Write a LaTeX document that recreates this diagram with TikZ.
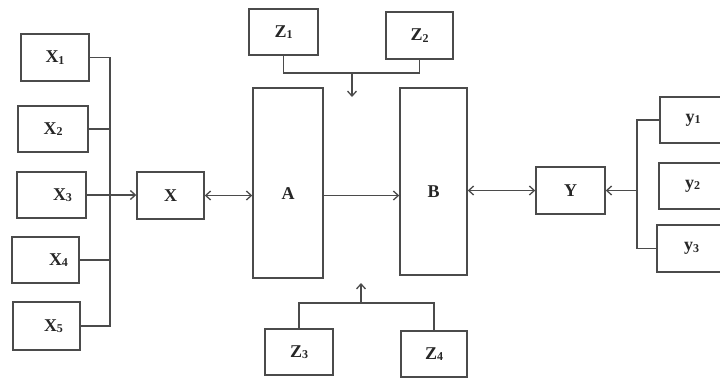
\documentclass[tikz,border=0pt]{standalone}
\usepackage{fontspec}
\setmainfont{Liberation Serif}
\usetikzlibrary{arrows.meta}
\newcommand\lbl[2]{#1\raisebox{-1.5pt}{\fontsize{12pt}{12pt}\selectfont #2}}
\definecolor{ink}{RGB}{75,75,75}
\tikzset{
  blk/.style={draw=ink, line width=1.4pt, fill=white, inner sep=0pt,
              font=\fontsize{18pt}{18pt}\selectfont\bfseries, text=black!85},
  wire/.style={draw=ink, line width=1.3pt},
  arr/.style={wire, -{Straight Barb[length=5pt,width=9pt]}},
  darr/.style={wire, {Straight Barb[length=5pt,width=9pt]}-{Straight Barb[length=5pt,width=9pt]}}
}
\begin{document}
\begin{tikzpicture}[x=1pt,y=-1pt]
\useasboundingbox (0,0) rectangle (720,381);
\fill[white] (0,0) rectangle (720,381);

% inputs X1..X5
\node[blk, minimum width=68pt, minimum height=47pt] (X1) at (55,57.5) {\lbl{X}{1}};
\node[blk, minimum width=70pt, minimum height=46pt] (X2) at (53,129) {\lbl{X}{2}};
\node[blk, minimum width=69pt, minimum height=46pt] (X3) at (51.5,195) {\hspace{22pt}\lbl{X}{3}};
\node[blk, minimum width=67pt, minimum height=46pt] (X4) at (45.5,260) {\hspace{26pt}\lbl{X}{4}};
\node[blk, minimum width=67pt, minimum height=48pt] (X5) at (46.5,326) {\hspace{14pt}\lbl{X}{5}};
\node[blk, minimum width=67pt, minimum height=47pt] (X) at (170.5,195.5) {X};

% main blocks (labels sit a little below centre)
\node[blk, minimum width=70pt, minimum height=190pt] (A) at (288,183) {\raisebox{0pt}[32pt][0pt]{A}};
\node[blk, minimum width=67pt, minimum height=187pt] (B) at (433.5,181.5) {\raisebox{0pt}[31pt][0pt]{B}};

% disturbances Z1..Z4
\node[blk, minimum width=69pt, minimum height=46pt] (Z1) at (283.5,32) {\lbl{Z}{1}};
\node[blk, minimum width=67pt, minimum height=47pt] (Z2) at (419.5,35.5) {\lbl{Z}{2}};
\node[blk, minimum width=68pt, minimum height=46pt] (Z3) at (299,352) {\lbl{Z}{3}};
\node[blk, minimum width=66pt, minimum height=46pt] (Z4) at (434,354) {\lbl{Z}{4}};

% outputs
\node[blk, minimum width=69pt, minimum height=47pt] (Y) at (570.5,190.5) {Y};
\node[blk, minimum width=66pt, minimum height=46pt] (Y1) at (693,120) {\lbl{у}{1}};
\node[blk, minimum width=67pt, minimum height=46pt] (Y2) at (692.5,186) {\lbl{у}{2}};
\node[blk, minimum width=69pt, minimum height=47pt] (Y3) at (691.5,248.5) {\lbl{у}{3}};

% bus helpers
\coordinate (xbus) at (110,0);
\coordinate (ybus) at (637,0);
\coordinate (ztop) at (0,73);
\coordinate (zbot) at (0,303);
\coordinate (topTip) at (352,97);
\coordinate (botTip) at (361,283);

% left collector
\draw[wire] (X1.east) -- (X1.east -| xbus) -- (X5.east -| xbus) -- (X5.east);
\draw[wire] (X2.east) -- (X2.east -| xbus);
\draw[wire] (X4.east) -- (X4.east -| xbus);
\draw[arr] (X3.east) -- (X.west |- X3.east);

% chain
\draw[darr] (X.east) -- (A.west |- X.east);
\draw[arr] (A.east |- X.east) -- (B.west |- X.east);
\draw[darr] (B.east |- Y.west) -- (Y.west);

% right collector
\draw[wire] (Y1.west) -- (Y1.west -| ybus) -- (Y3.west -| ybus) -- (Y3.west);
\draw[arr] (Y.east -| ybus) -- (Y.east);

% top disturbances
\draw[wire] (Z1.south) -- (Z1.south |- ztop) -- (Z2.south |- ztop) -- (Z2.south);
\draw[arr] (topTip |- ztop) -- (topTip);

% bottom disturbances
\draw[wire] (Z3.north) -- (Z3.north |- zbot) -- (Z4.north |- zbot) -- (Z4.north);
\draw[arr] (botTip |- zbot) -- (botTip);
\end{tikzpicture}
\end{document}
